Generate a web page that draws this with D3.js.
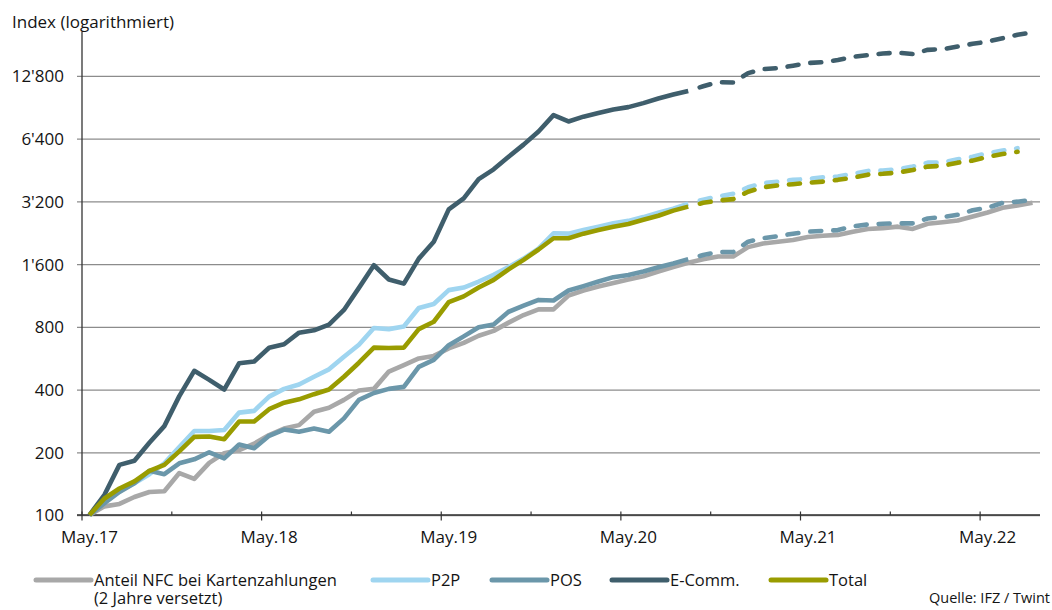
<!DOCTYPE html>
<html>
<head>
<meta charset="utf-8">
<script src="https://cdn.jsdelivr.net/npm/d3@7/dist/d3.min.js"></script>
<style>
  body { margin: 0; background: #fff; }
  text { font-family: "Open Sans", "Noto Sans", sans-serif; fill: #141414; }
</style>
</head>
<body>
<svg id="chart" width="1052" height="610"></svg>
<script>
// Monthly categories, May 2017 to August 2022
const months = [
  "May.17","Jun.17","Jul.17","Aug.17","Sep.17","Oct.17","Nov.17","Dec.17","Jan.18","Feb.18","Mar.18","Apr.18",
  "May.18","Jun.18","Jul.18","Aug.18","Sep.18","Oct.18","Nov.18","Dec.18","Jan.19","Feb.19","Mar.19","Apr.19",
  "May.19","Jun.19","Jul.19","Aug.19","Sep.19","Oct.19","Nov.19","Dec.19","Jan.20","Feb.20","Mar.20","Apr.20",
  "May.20","Jun.20","Jul.20","Aug.20","Sep.20","Oct.20","Nov.20","Dec.20","Jan.21","Feb.21","Mar.21","Apr.21",
  "May.21","Jun.21","Jul.21","Aug.21","Sep.21","Oct.21","Nov.21","Dec.21","Jan.22","Feb.22","Mar.22","Apr.22",
  "May.22","Jun.22","Jul.22","Aug.22"
];

// Index values (May.17 = 100)
const nfcShare = [
  100, 110, 113, 122, 129, 130, 159, 149, 178, 198, 205, 220,
  242, 260, 270, 313, 327, 357, 396, 403, 488, 524, 564, 580,
  630, 670, 725, 765, 838, 911, 970, 970, 1130, 1195, 1250, 1300,
  1350, 1400, 1475, 1550, 1625, 1690, 1740, 1740, 1930, 2010, 2050, 2090,
  2160, 2190, 2210, 2290, 2360, 2380, 2420, 2360, 2500, 2540, 2590, 2710,
  2830, 2980, 3060, 3150
];
const p2p = [
  100, 117, 131, 142, 157, 177, 212, 253, 253, 256, 310, 316,
  370, 403, 423, 461, 500, 575, 656, 790, 780, 803, 985, 1030,
  1200, 1235, 1320, 1420, 1550, 1700, 1900, 2250, 2240, 2330, 2420, 2510,
  2580, 2690, 2820, 2950, 3120, 3260, 3380, 3480, 3740, 3910, 3980, 4060,
  4100, 4180, 4210, 4340, 4480, 4500, 4570, 4700, 4910, 4910, 5100, 5240,
  5450, 5610, 5760
];
const pos = [
  100, 114, 129, 142, 163, 157, 177, 185, 200, 187, 218, 209,
  240, 257, 251, 260, 251, 291, 357, 385, 403, 412, 514, 555,
  653, 720, 797, 820, 945, 1010, 1077, 1070, 1195, 1255, 1320, 1385,
  1420, 1475, 1545, 1610, 1690, 1770, 1830, 1830, 2050, 2130, 2180, 2240,
  2290, 2310, 2330, 2430, 2480, 2500, 2510, 2510, 2650, 2690, 2760, 2900,
  2980, 3150, 3190, 3260
];
const eComm = [
  100, 125, 174, 182, 222, 267, 372, 492, 445, 400, 535, 545,
  635, 660, 750, 770, 820, 964, 1230, 1580, 1350, 1290, 1700, 2050,
  2930, 3310, 4090, 4560, 5240, 5990, 6930, 8300, 7740, 8160, 8500, 8830,
  9070, 9480, 9970, 10420, 10850, 11420, 11950, 11900, 13200, 13800, 13950, 14330,
  14760, 14900, 15250, 15800, 16100, 16400, 16550, 16300, 17080, 17200, 17700, 18260,
  18700, 19420, 20180, 20700
];
const total = [
  100, 120, 134, 145, 163, 174, 202, 237, 238, 231, 281, 281,
  322, 346, 359, 380, 400, 461, 538, 636, 633, 636, 780, 846,
  1050, 1120, 1235, 1344, 1510, 1676, 1880, 2130, 2130, 2240, 2330, 2420,
  2490, 2610, 2730, 2890, 3020, 3150, 3230, 3280, 3560, 3740, 3820, 3870,
  3930, 3980, 4060, 4160, 4300, 4340, 4400, 4530, 4700, 4740, 4910, 5020,
  5240, 5400, 5540
];

// Last observed month; later months are projections (dashed)
const lastActual = "Sep.20";

const yTicks = [100, 200, 400, 800, 1600, 3200, 6400, 12800];
const yearTicks = ["May.17", "May.18", "May.19", "May.20", "May.21", "May.22"];
const halfYearTicks = ["Nov.17", "Nov.18", "Nov.19", "Nov.20", "Nov.21"];

const series = [
  { label: ["Anteil NFC bei Kartenzahlungen", "(2 Jahre versetzt)"], values: nfcShare, color: "#a8a8a8", projected: false, lx: 36 },
  { label: ["P2P"], values: p2p, color: "#9fd5f0", projected: true, lx: 373 },
  { label: ["POS"], values: pos, color: "#6b97aa", projected: true, lx: 492 },
  { label: ["E-Comm."], values: eComm, color: "#3f5e6c", projected: true, lx: 612 },
  { label: ["Total"], values: total, color: "#999c00", projected: true, lx: 771 }
];

const svg = d3.select("#chart");
const plotLeft = 82, plotRight = 1040, plotTop = 32, plotBottom = 515;

const x = d3.scaleBand().domain(months).range([plotLeft, plotRight]);
const cx = m => x(m) + x.bandwidth() / 2;
const y = d3.scaleLog().domain([100, 20800]).range([plotBottom, plotTop]);

const fmt = d3.formatLocale({ decimal: ".", thousands: "'", grouping: [3], currency: ["", ""] }).format(",d");

// Horizontal gridlines with value labels
const yAxis = svg.append("g")
  .attr("transform", `translate(${plotLeft - 5},0)`)
  .call(d3.axisLeft(y).tickValues(yTicks).tickFormat(fmt)
    .tickSize(-(plotRight - plotLeft + 5)).tickSizeOuter(0).tickPadding(13));
yAxis.select(".domain").remove();
yAxis.selectAll(".tick line").attr("stroke", "#8c8c8c").attr("stroke-width", 1.3);
yAxis.selectAll(".tick text")
  .style("font-size", "17px")
  .attr("fill", "#141414")
  .attr("dy", "0.35em");

// Axis lines
svg.append("line").attr("x1", plotLeft).attr("x2", plotLeft).attr("y1", plotTop).attr("y2", plotBottom)
  .attr("stroke", "#333").attr("stroke-width", 1.3);
svg.append("line").attr("x1", plotLeft - 5).attr("x2", plotRight).attr("y1", plotBottom).attr("y2", plotBottom)
  .attr("stroke", "#333").attr("stroke-width", 1.3);

// Month ticks at category boundaries
svg.append("g").selectAll("line").data(yearTicks).join("line")
  .attr("x1", m => x(m)).attr("x2", m => x(m))
  .attr("y1", plotBottom - 3.5).attr("y2", plotBottom + 5.5)
  .attr("stroke", "#333").attr("stroke-width", 1.2);
svg.append("g").selectAll("line").data(halfYearTicks).join("line")
  .attr("x1", m => x(m)).attr("x2", m => x(m))
  .attr("y1", plotBottom - 3.5).attr("y2", plotBottom)
  .attr("stroke", "#333").attr("stroke-width", 1.2);

const xAxis = svg.append("g")
  .attr("transform", `translate(0,${plotBottom})`)
  .call(d3.axisBottom(x).tickValues(yearTicks).tickSize(0));
xAxis.select(".domain").remove();
xAxis.selectAll(".tick text")
  .style("font-size", "17px")
  .attr("fill", "#141414")
  .attr("dy", null)
  .attr("y", 28);

// Series lines: solid for observed months, dashed for projections
const line = d3.line().x(d => cx(d.m)).y(d => y(d.v)).curve(d3.curveLinear);
const split = months.indexOf(lastActual);

series.forEach(s => {
  const pts = s.values.map((v, i) => ({ m: months[i], v }));
  const actual = s.projected ? pts.slice(0, split + 1) : pts;
  svg.append("path")
    .attr("d", line(actual))
    .attr("fill", "none")
    .attr("stroke", s.color)
    .attr("stroke-width", 4.6)
    .attr("stroke-linejoin", "round");
  if (s.projected) {
    svg.append("path")
      .attr("d", line(pts.slice(split)))
      .attr("fill", "none")
      .attr("stroke", s.color)
      .attr("stroke-width", 4.6)
      .attr("stroke-linejoin", "round")
      .attr("stroke-linecap", "round")
      .attr("stroke-dasharray", "11,12")
      .attr("stroke-dashoffset", 11);
  }
});

// Axis title
svg.append("text").attr("x", 12).attr("y", 28).style("font-size", "17px").text("Index (logarithmiert)");

// Legend
const legend = svg.append("g");
series.forEach(s => {
  legend.append("line")
    .attr("x1", s.lx).attr("x2", s.lx + 55).attr("y1", 580).attr("y2", 580)
    .attr("stroke", s.color).attr("stroke-width", 5).attr("stroke-linecap", "round");
  s.label.forEach((l, i) => {
    legend.append("text")
      .attr("x", s.lx + 58).attr("y", 586 + i * 18)
      .style("font-size", "16.5px")
      .text(l);
  });
});

// Source note
svg.append("text").attr("x", 1050).attr("y", 603).attr("text-anchor", "end")
  .style("font-size", "14.5px").text("Quelle: IFZ / Twint");
</script>
</body>
</html>
